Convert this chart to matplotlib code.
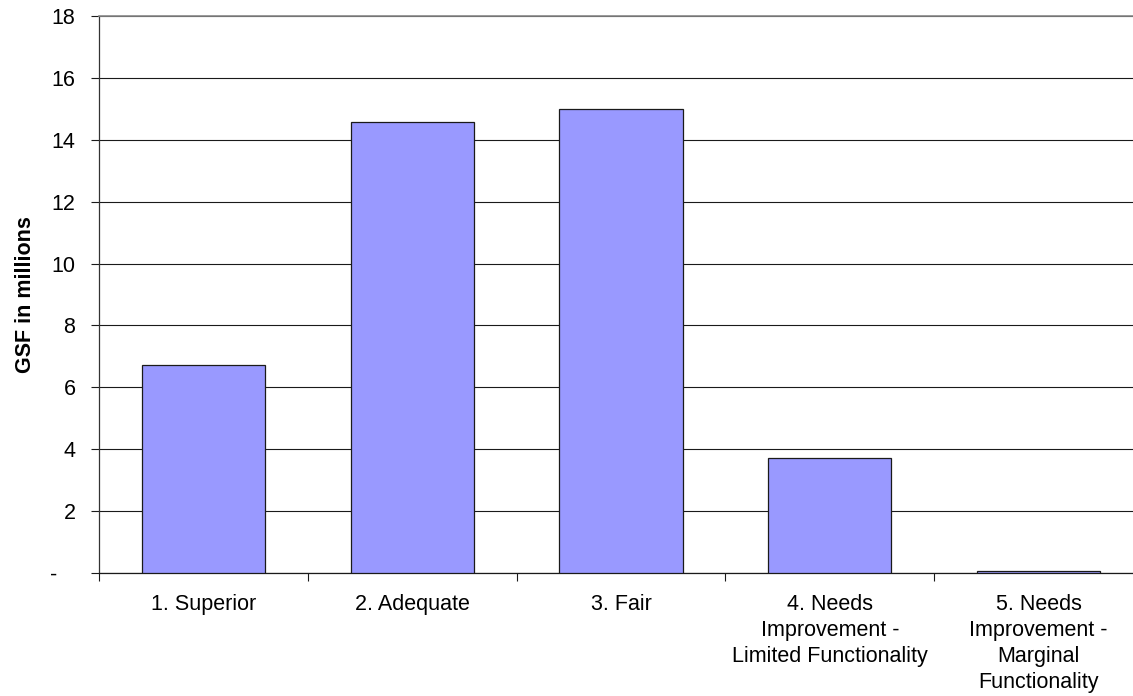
import matplotlib
matplotlib.use("Agg")
import matplotlib.pyplot as plt
from matplotlib.ticker import FixedLocator, NullFormatter

categories = [
    "1. Superior",
    "2. Adequate",
    "3. Fair",
    "4. Needs\nImprovement -\nLimited Functionality",
    "5. Needs\nImprovement -\nMarginal\nFunctionality",
]
gsf_millions = [6.71, 14.56, 14.99, 3.72, 0.08]
y_ticks = [0, 2, 4, 6, 8, 10, 12, 14, 16, 18]
y_tick_labels = ["-   ", "2", "4", "6", "8", "10", "12", "14", "16", "18"]

plt.rcParams["font.family"] = ["Liberation Sans", "DejaVu Sans"]

W, H = 1133, 696
fig = plt.figure(figsize=(W / 100, H / 100), dpi=100)
ax = fig.add_axes([99 / W, (H - 573) / H, 1044 / W, 557 / H])

x = list(range(len(categories)))
ax.bar(x, gsf_millions, width=0.59, color="#9999FF", edgecolor="#1a1a1a",
       linewidth=0.9, zorder=3)

ax.set_xlim(-0.5, len(categories) - 0.5)
ax.set_ylim(0, 18)

ax.set_yticks(y_ticks)
ax.set_yticklabels(y_tick_labels, fontsize=15.5)
ax.yaxis.grid(True, color="#1a1a1a", linewidth=0.8, zorder=0)
ax.set_axisbelow(True)

ax.set_xticks(x)
ax.set_xticklabels(categories, fontsize=15.5, linespacing=1.32)
ax.tick_params(axis="x", which="major", length=0, pad=15)
ax.xaxis.set_minor_locator(FixedLocator([i - 0.5 for i in range(len(categories) + 1)]))
ax.xaxis.set_minor_formatter(NullFormatter())
ax.tick_params(axis="x", which="minor", length=6, width=0.8, color="#1a1a1a")
ax.tick_params(axis="y", length=6, width=0.8, color="#1a1a1a", pad=11)

ax.spines["right"].set_visible(False)
ax.spines["top"].set_color("#888888")
ax.spines["top"].set_linewidth(1.2)
ax.spines["left"].set_color("#333333")
ax.spines["left"].set_linewidth(0.9)
ax.spines["bottom"].set_color("#1a1a1a")
ax.spines["bottom"].set_linewidth(0.9)

ax.set_ylabel("GSF in millions", fontsize=15.5, fontweight="bold", labelpad=10)

fig.savefig("out.png", dpi=100)
